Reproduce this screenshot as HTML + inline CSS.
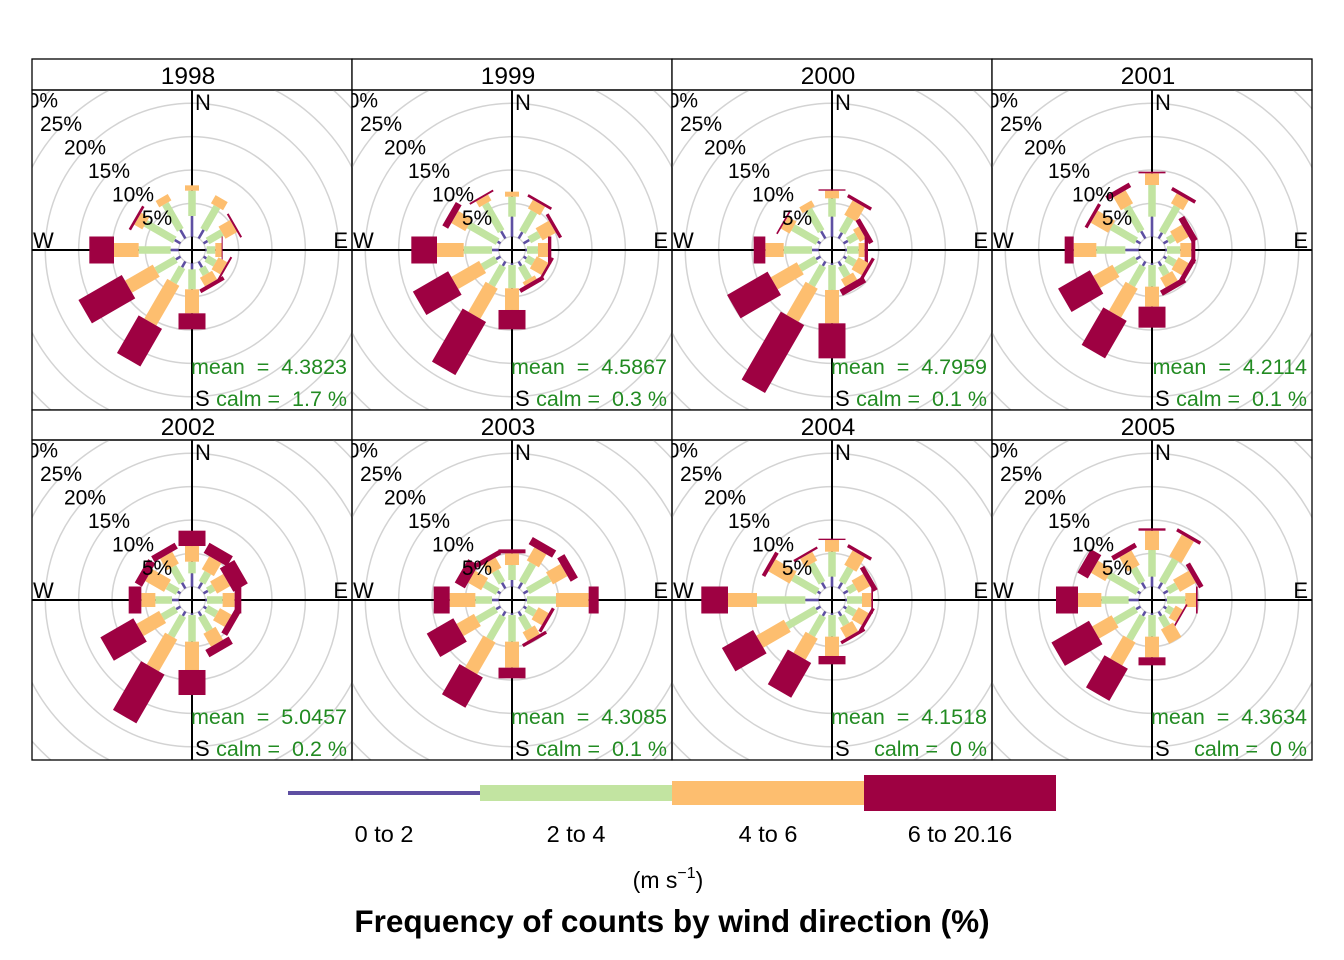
<!DOCTYPE html>
<html><head><meta charset="utf-8"><style>
html,body{margin:0;padding:0;background:#fff;}
svg{display:block;font-family:"Liberation Sans",Arial,sans-serif;}
.pre{white-space:pre;}
</style></head><body>
<svg id="chart" width="1344" height="960" viewBox="0 0 1344 960" xmlns="http://www.w3.org/2000/svg">
<rect width="1344" height="960" fill="#fff"/>
<g id="panels"></g>
<g id="legend"></g>
<text x="668" y="888" font-size="23" text-anchor="middle">(m s<tspan dy="-10" font-size="16">−1</tspan><tspan dy="10">)</tspan></text>
<text x="672" y="932" font-size="31.5" font-weight="bold" text-anchor="middle">Frequency of counts by wind direction (%)</text>
</svg>
<script>
const years = ["1998","1999","2000","2001","2002","2003","2004","2005"];
const means = ["4.3823","4.5867","4.7959","4.2114","5.0457","4.3085","4.1518","4.3634"];
const calms = ["1.7 %","0.3 %","0.1 %","0.1 %","0.2 %","0.1 %","0 %","0 %"];
const directions = [0,30,60,90,120,150,180,210,240,270,300,330];
const bandLabels = ["0 to 2","2 to 4","4 to 6","6 to 20.16"];
const gridPercents = [5,10,15,20,25,30];
// cumulative percent at end of each speed band, per year, per direction
const cum0to2 = [
 [3.1,1.5,0.7,0.2,0.5,1,0.9,1,0.8,1.2,1,1.5],
 [3,1.1,1,0.25,0.5,0.75,0.25,0.75,0.75,1,0.5,1.25],
 [3,1,0.75,0.25,0.5,0.75,0.25,0.75,0.75,1,0.5,1.25],
 [3,1,0.75,0.25,0.5,0.75,0.25,0.75,0.75,2,0.75,1.25],
 [2,1,0.75,0.25,0.5,0.75,0.25,0.75,0.75,1,0.5,1],
 [1,1,0.75,0.25,0.5,0.75,0.25,0.75,0.75,1,0.5,1],
 [1.5,1,0.75,0.25,0.5,0.75,0.25,0.75,0.75,2,0.5,1],
 [1.5,1,0.75,0.25,0.5,0.75,0.25,0.75,0.75,1.5,0.5,1]];
const cum2to4 = [
 [6.9,5.5,3.2,1.5,2,2.2,3.9,3.6,4.2,6,6,6],
 [6,4.6,2.7,1.9,1.7,3,3.75,4.1,3.1,5.25,5.5,6],
 [5.75,3.5,2.25,2,2,2.5,4,4.1,3.5,5.25,4.75,5],
 [7.75,5.5,1.75,2.25,2,2.25,3.5,4.1,4.25,6.35,5,5.5],
 [3.75,2.75,1.75,2.6,2.25,3.25,4.25,4.25,3.1,3.5,2.25,3.75],
 [3.25,4.25,4.5,4.6,2,3,4.25,4.75,4,3.5,2.75,3],
 [5.25,3.5,2,2.5,2,2.25,3.5,4.1,5.75,9.25,4.75,4.25],
 [5.5,5,2.25,3,1.5,2.5,3.5,4.75,4.4,5.6,5.5,3.5]];
const cum4to6 = [
 [7.7,6.9,5.2,2.5,3.5,3.7,7.5,10.5,9,9.7,7.4,7.1],
 [6.75,6.1,5,3.4,3.7,3.6,7,9.3,7.9,9.25,7.9,7],
 [6.9,6,3.25,2.9,3.75,3.75,9,9.85,8,8,6.25,6],
 [9.5,7.2,3.75,3.9,3.75,3.9,6.5,9.1,7.6,9.75,8,7.75],
 [6.1,5,4,4.4,4.25,5.5,8.5,9.75,7,5.6,5.5,5.75],
 [5,6.5,7,9.5,3.75,4.5,8.15,10.25,7,7.35,5,4.75],
 [7,6,4,3.9,3.75,4,6.4,7.75,10.5,13.6,8.4,5.75],
 [8.4,8.75,5,4.6,2.75,5,6.6,8.75,7.75,9.1,7.95,6]];
const cum6toMax = [
 [7.7,6.9,5.5,2.6,3.8,4.3,9.9,17,16.5,13.4,7.8,7.1],
 [6.75,6.5,5.5,3.9,4.1,4.25,9.9,18.5,14,13.1,8.9,7.3],
 [7.1,6.5,4,3.4,4.25,4.75,14.25,21.6,15,9.75,6.5,6],
 [9.75,7.75,4.75,4.5,4.5,4.75,9.65,15.6,13.1,11.1,8.5,8.5],
 [8.4,6.75,6.5,5.4,5.25,6.75,12.25,18.2,12.7,7.5,6.75,6.75],
 [5.6,7.75,8.25,11,4.25,5,9.75,15.5,11.6,9.75,6.75,5.5],
 [7.2,6.5,4.75,4.15,4.25,4.5,7.65,13.75,15.9,17.6,9,6.1],
 [8.75,9.25,5.75,4.85,3,5,7.8,14.3,14.25,12.4,9.75,6.75]];

const NS="http://www.w3.org/2000/svg";
const colors=["#5E4FA2","#C2E4A1","#FDBE6F","#9E0142"];
const widths=[2.6,7.5,14,27];
const OFFSET=13.3, PXPCT=6.67;
function rScale(p){return OFFSET+PXPCT*p;}
function mk(tag,attrs,parent){const e=document.createElementNS(NS,tag);for(const k in attrs)e.setAttribute(k,attrs[k]);parent.appendChild(e);return e;}
const panels=document.getElementById('panels');
const defs=mk('defs',{},document.getElementById('chart'));
const bands=[cum0to2,cum2to4,cum4to6,cum6toMax];

years.forEach((yr,i)=>{
  const col=i%4,row=Math.floor(i/4);
  const L=32+320*col, T=row===0?90:440, ST=row===0?59:410;
  const cx=L+160, cy=T+160;
  const g=mk('g',{},panels);
  
  
  const strip=mk('rect',{x:L,y:ST,width:320,height:T-ST,fill:'#fff',stroke:'#000','stroke-width':1.3},g);
  
  
  const st=mk('text',{x:cx-4,y:ST+25,'font-size':24.5,'text-anchor':'middle'},g);
  st.textContent=yr;
  
  
  const cp=mk('clipPath',{id:'clip'+i},defs);
  mk('rect',{x:L,y:T,width:320,height:320},cp);
  const inner=mk('g',{'clip-path':'url(#clip'+i+')'},g);
  gridPercents.concat([35]).forEach(p=>{
    const c=mk('circle',{cx:cx,cy:cy,r:rScale(p),fill:'none',stroke:'#d3d3d3','stroke-width':1.5},inner);
    
    
  });
  mk('circle',{cx:cx,cy:cy,r:OFFSET,fill:'none',stroke:'#d3d3d3','stroke-width':1.3},inner);
  const ax1=mk('line',{x1:L,y1:cy,x2:L+320,y2:cy,stroke:'#000','stroke-width':2},inner);
  
  
  const ax2=mk('line',{x1:cx,y1:T,x2:cx,y2:T+320,stroke:'#000','stroke-width':2},inner);
  
  
  directions.forEach((d,j)=>{
    let start=0;
    bands.forEach((arr,b)=>{
      const end=arr[i][j];
      if(end-start>0.01){
        const r0=rScale(start), r1=rScale(end), w=widths[b];
        const rect=mk('rect',{x:cx-w/2,y:cy-r1,width:w,height:Math.max(r1-r0,1),fill:colors[b],transform:'rotate('+d+' '+cx+' '+cy+')'},inner);
        
        
      }
      start=Math.max(start,end);
    });
  });
  gridPercents.forEach((p,k)=>{
    const t=mk('text',{x:cx-35-24*k,y:cy-25-23.5*k,'font-size':21,'text-anchor':'middle'},inner);
    t.textContent=p+'%';
    
    
  });
  const lab=[['N',cx+3,T+20,'start'],['E',L+316,cy-2,'end'],['W',L+1,cy-2,'start'],['S',cx+3,T+316,'start']];
  lab.forEach(a=>{const t=mk('text',{x:a[1],y:a[2],'font-size':22,'text-anchor':a[3]},inner);t.textContent=a[0];
    
    });
  const m=mk('text',{x:L+315,y:T+284,'font-size':21.5,'text-anchor':'end',fill:'#228B22','class':'pre'},inner);
  m.textContent='mean  =  '+means[i];
  
  
  const c=mk('text',{x:L+315,y:T+316,'font-size':21.5,'text-anchor':'end',fill:'#228B22','class':'pre'},inner);
  c.textContent='calm =  '+calms[i];
  
  
  const bd=mk('rect',{x:L,y:T,width:320,height:320,fill:'none',stroke:'#000','stroke-width':1.3},g);
  
  
});
const lg=document.getElementById('legend');
const legH=[4,16,24,36];
bandLabels.forEach((s,b)=>{
  const x=288+192*b;
  const r=mk('rect',{x:x,y:793-legH[b]/2,width:192,height:legH[b],fill:colors[b]},lg);
  
  
  const t=mk('text',{x:x+96,y:842,'font-size':23.5,'text-anchor':'middle'},lg);
  t.textContent=s;
  
  
});
</script>
</body></html>
